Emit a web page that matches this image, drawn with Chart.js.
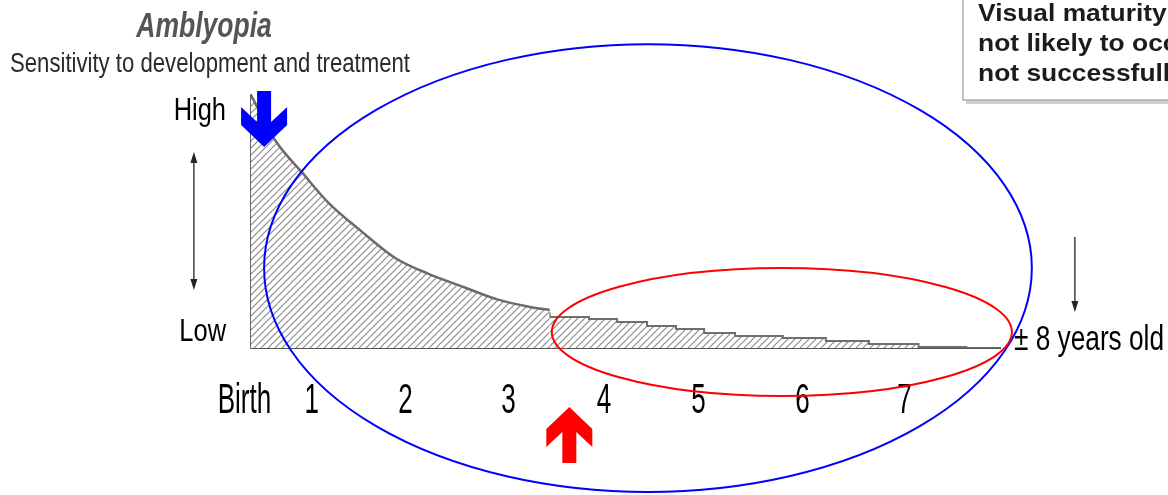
<!DOCTYPE html>
<html>
<head>
<meta charset="utf-8">
<title>Amblyopia</title>
<script src="https://cdn.jsdelivr.net/npm/chart.js"></script>
<style>
    html, body { margin: 0; padding: 0; background: #fff; }
    #wrap { width: 1168px; height: 495px; position: relative; }
</style>
</head>
<body>
<div id="wrap"><canvas id="myChart"></canvas></div>
<script>
// curve: age in years / sensitivity (0 = low, 100 = high)
var curveYears  = [0, 0.26, 0.55, 0.82, 1.19, 1.54, 1.89, 2.27, 2.63, 2.98, 3.19];
var curveValues = [100, 82, 69.2, 57.7, 45.8, 35.6, 29.4, 24.1, 19.2, 16.2, 15];
// the tail of the curve is a staircase in the original
var stepYears  = [3.19, 3.61, 3.91, 4.23, 4.54, 4.84, 5.17, 5.68, 6.14, 6.6, 7.13, 7.64, 7.87, 8];
var stepValues = [14.0, 12.3, 11.5, 10.3, 8.7, 7.5, 5.9, 4.7, 4.0, 2.8, 1.6, 0.4, 0, 0];

var xTickLabels = ['Birth', '1', '2', '3', '4', '5', '6', '7'];
var xTickPos    = [-0.07, 0.65, 1.65, 2.75, 3.77, 4.78, 5.89, 6.98];
var yTickLabels = ['High', 'Low'];
var yTickPos    = [94.3, 7.1];

var endLabel = '\u00b1 8 years old';
var titleText = 'Amblyopia';
var subtitleText = 'Sensitivity to development and treatment';
var boxLines = ['Visual maturity \u2013 amblyopia', 'not likely to occur after this age,', 'not successfully treated'];

var plain = "'Liberation Sans', Arial, sans-serif";
var myChart;

function toPoints(xs, ys){
    var pts = [];
    for(let i = 0;i < xs.length;i++){
        pts.push({x: xs[i], y: ys[i]});
    }
    return pts;
}

function makeHatch(){
    var c = document.createElement('canvas');
    c.width = 7; c.height = 7;
    var g = c.getContext('2d');
    g.fillStyle = '#fff';
    g.fillRect(0, 0, 7, 7);
    g.strokeStyle = '#8c8c8c';
    g.lineWidth = 1.2;
    g.beginPath();
    g.moveTo(-1, 8); g.lineTo(8, -1);
    g.moveTo(-1, 1); g.lineTo(1, -1);
    g.moveTo(6, 8); g.lineTo(8, 6);
    g.stroke();
    return g.createPattern(c, 'repeat');
}

// the slide uses a narrow, slightly tall Arial, so text gets squeezed / stretched
function drawText(ctx, text, x, y, font, sx, sy, align, color){
    ctx.save();
    ctx.translate(x, y);
    ctx.scale(sx, sy);
    ctx.font = font;
    ctx.fillStyle = color;
    ctx.textAlign = align;
    ctx.textBaseline = 'alphabetic';
    ctx.fillText(text, 0, 0);
    ctx.restore();
}

// thick arrow like the ones pasted on the slide, tip at (tx,ty), dir 1 = up, -1 = down
function fatArrow(ctx, tx, ty, dir, color){
    var shape = [[0,0],[23,22],[23,40],[7,25],[7,56],[-7,56],[-7,25],[-23,40],[-23,22]];
    ctx.save();
    ctx.fillStyle = color;
    ctx.beginPath();
    for(let i = 0;i < shape.length;i++){
        var px = tx + shape[i][0];
        var py = ty + shape[i][1] * dir;
        if(i === 0) ctx.moveTo(px, py); else ctx.lineTo(px, py);
    }
    ctx.closePath();
    ctx.fill();
    ctx.restore();
}

function arrowHead(ctx, x, y, dir){
    ctx.beginPath();
    ctx.moveTo(x, y);
    ctx.lineTo(x - 3.5, y - 11 * dir);
    ctx.lineTo(x + 3.5, y - 11 * dir);
    ctx.closePath();
    ctx.fill();
}

var decorations = {
    id: 'decorations',
    afterDraw: function(chart){
        var ctx = chart.ctx;
        var xs = chart.scales.x, ys = chart.scales.y;
        var X = function(v){ return xs.getPixelForValue(v); };
        var Y = function(v){ return ys.getPixelForValue(v); };
        ctx.save();

        // tick labels, placed by the scales
        for(let i = 0;i < xTickLabels.length;i++){
            drawText(ctx, xTickLabels[i], X(xTickPos[i]), Y(0) + 65, '31px ' + plain, 0.84, 1.4, 'center', '#000');
        }
        for(let i = 0;i < yTickLabels.length;i++){
            drawText(ctx, yTickLabels[i], X(0) - 25, Y(yTickPos[i]) + 11, '31px ' + plain, 0.82, 1, 'right', '#000');
        }
        drawText(ctx, endLabel, X(8) + 14, Y(0) + 2, '32px ' + plain, 0.82, 1.12, 'left', '#000');

        // title + subtitle
        drawText(ctx, titleText, 204, 37, 'italic bold 26.5px ' + plain, 1, 1.3, 'center', '#555');
        drawText(ctx, subtitleText, 10, 72, '27px ' + plain, 0.82, 1, 'left', '#2a2a2a');

        // box in the top right corner (cut by the edge)
        ctx.fillStyle = '#cfcfcf';
        ctx.fillRect(966, -10, 240, 114);
        ctx.fillStyle = '#fff';
        ctx.fillRect(963, -10, 240, 110);
        ctx.strokeStyle = '#9a9a9a';
        ctx.lineWidth = 1.2;
        ctx.strokeRect(963, -10, 240, 110);
        for(let i = 0;i < boxLines.length;i++){
            drawText(ctx, boxLines[i], 978, 21 + i * 30, 'bold 24px ' + plain, 1.1, 1, 'left', '#1c1c1c');
        }

        // thin black arrows
        ctx.strokeStyle = '#222';
        ctx.fillStyle = '#222';
        ctx.lineWidth = 1.3;
        ctx.beginPath();
        ctx.moveTo(X(-0.61), Y(75)); ctx.lineTo(X(-0.61), Y(25.5));
        ctx.moveTo(X(8.8), Y(43.9)); ctx.lineTo(X(8.8), Y(17));
        ctx.stroke();
        arrowHead(ctx, X(-0.61), Y(77.5), -1);
        arrowHead(ctx, X(-0.61), Y(22.9), 1);
        arrowHead(ctx, X(8.8), Y(14.2), 1);

        // ellipses, in axis units
        ctx.lineWidth = 2;
        ctx.strokeStyle = '#0000ff';
        ctx.beginPath();
        ctx.ellipse(X(4.24), Y(31.6), X(4.24 + 4.10) - X(4.24), Y(0) - Y(88.5), 0, 0, Math.PI * 2);
        ctx.stroke();
        ctx.strokeStyle = '#ff0000';
        ctx.beginPath();
        ctx.ellipse(X(5.67), Y(6.3), X(5.67 + 2.457) - X(5.67), Y(0) - Y(25.3), 0, 0, Math.PI * 2);
        ctx.stroke();

        fatArrow(ctx, X(0.14), Y(79.4), -1, '#0000ff');
        fatArrow(ctx, X(3.40), Y(-23.3), 1, '#ff0000');
        ctx.restore();
    }
};

function getChart(){
    var ctx = document.getElementById('myChart').getContext('2d');
    var hatch = makeHatch();
    myChart = new Chart(ctx, {
        type: 'line',
        data: {
            datasets: [{
                data: toPoints(curveYears, curveValues),
                borderColor: '#6b6b6b',
                borderWidth: 2.5,
                backgroundColor: hatch,
                fill: 'origin',
                cubicInterpolationMode: 'monotone',
                pointRadius: 0
            }, {
                data: toPoints(stepYears, stepValues),
                borderColor: '#6f6f6f',
                borderWidth: 2,
                backgroundColor: hatch,
                fill: 'origin',
                stepped: 'after',
                pointRadius: 0
            }]
        },
        options: {
            responsive: true,
            maintainAspectRatio: false,
            animation: false,
            layout: { padding: { top: 95, right: 168, left: 0, bottom: 0 } },
            plugins: { legend: { display: false }, tooltip: { enabled: false } },
            scales: {
                x: {
                    type: 'linear', min: 0, max: 8,
                    afterFit: function(s){ s.height = 147; },
                    afterBuildTicks: function(s){ s.ticks = xTickPos.map(function(v){ return {value: v}; }); },
                    grid: { display: false, drawTicks: false },
                    border: { color: '#555', width: 2 },
                    ticks: { display: false }
                },
                y: {
                    min: 0, max: 100,
                    afterFit: function(s){ s.width = 251; },
                    afterBuildTicks: function(s){ s.ticks = yTickPos.map(function(v){ return {value: v}; }); },
                    grid: { display: false, drawTicks: false },
                    border: { color: '#666', width: 2 },
                    ticks: { display: false }
                }
            }
        },
        plugins: [decorations]
    });
    return myChart;
}
window.addEventListener('load', function() {
    getChart();
});
</script>
</body>
</html>
